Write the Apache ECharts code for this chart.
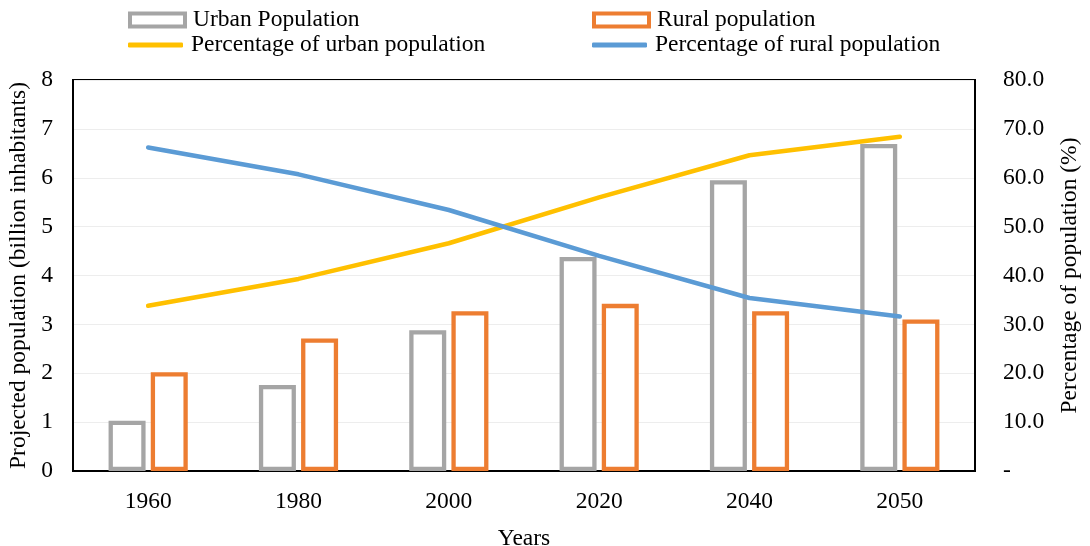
<!DOCTYPE html>
<html>
<head>
<meta charset="utf-8">
<script src="https://cdn.jsdelivr.net/npm/echarts@6/dist/echarts.min.js"></script>
<style>
  html, body { margin: 0; padding: 0; background: #fff; }
  #chart { width: 1090px; height: 546px; }
</style>
</head>
<body>
<div id="chart"></div>
<script>
// Urban vs rural world population, 1960-2050
const years = ['1960', '1980', '2000', '2020', '2040', '2050'];
const urbanPopulation = [1.03, 1.76, 2.88, 4.38, 5.95, 6.69];   // billion
const ruralPopulation = [2.02, 2.71, 3.27, 3.42, 3.27, 3.10];   // billion
const urbanPercent = [33.8, 39.3, 46.6, 56.0, 64.6, 68.4];      // %
const ruralPercent = [66.2, 60.7, 53.4, 44.0, 35.4, 31.6];      // %

const FONT = 'Liberation Serif';
const FS = 23.5;
const GRAY = '#A5A5A5', ORANGE = '#ED7D31', GOLD = '#FFC000', BLUE = '#5B9BD5';

const chart = echarts.init(document.getElementById('chart'), null, { renderer: 'canvas' });

const legendText = { fontFamily: FONT, fontSize: FS, color: '#000', padding: [0, 0, 0, 3] };

// one legend entry per block so each can sit in its own row/column
function legendEntry(name, left, top, isBar, color) {
  return {
    left: left, top: top, padding: 0,
    itemWidth: 55, itemHeight: isBar ? 13 : 5,
    textStyle: legendText,
    data: [isBar
      ? { name: name, icon: 'rect', itemStyle: { color: '#fff', borderColor: color, borderWidth: 4 } }
      : { name: name, icon: 'roundRect', itemStyle: { color: color, borderWidth: 0 } }]
  };
}

chart.setOption({
  animation: false,
  textStyle: { fontFamily: FONT, color: '#000' },
  legend: [
    legendEntry('Urban Population', 128, 8, true, GRAY),
    legendEntry('Percentage of urban population', 128, 33, false, GOLD),
    legendEntry('Rural population', 592, 8, true, ORANGE),
    legendEntry('Percentage of rural population', 592, 33, false, BLUE)
  ],
  grid: {
    left: 73, right: 115, top: 80, bottom: 75,
    outerBoundsMode: 'none', containLabel: false,
    show: true, borderColor: '#000', borderWidth: 2, backgroundColor: 'transparent'
  },
  xAxis: {
    type: 'category', data: years,
    name: 'Years', nameLocation: 'middle', nameGap: 56,
    nameTextStyle: { fontFamily: FONT, fontSize: FS, color: '#000' },
    axisLine: { lineStyle: { color: '#000', width: 2 } },
    axisTick: { show: false },
    axisLabel: { fontFamily: FONT, fontSize: FS, color: '#000', margin: 19 }
  },
  yAxis: [
    {
      type: 'value', min: 0, max: 8, interval: 1,
      name: 'Projected population (billion inhabitants)', nameLocation: 'middle', nameGap: 38,
      nameTextStyle: { fontFamily: FONT, fontSize: FS, color: '#000' },
      axisLine: { show: true, lineStyle: { color: '#000', width: 2 } },
      axisLabel: { fontFamily: FONT, fontSize: FS, color: '#000', margin: 20 },
      splitLine: { show: true, lineStyle: { color: '#EDEDED', width: 1 } }
    },
    {
      type: 'value', min: 0, max: 80, interval: 10,
      name: 'Percentage of population (%)', nameLocation: 'middle', nameGap: 83, nameRotate: 90,
      nameTextStyle: { fontFamily: FONT, fontSize: FS, color: '#000' },
      axisLine: { show: true, lineStyle: { color: '#000', width: 2 } },
      axisLabel: {
        fontFamily: FONT, fontSize: FS, color: '#000', margin: 28,
        formatter: v => v === 0 ? '-' : v.toFixed(1)
      },
      splitLine: { show: false }
    }
  ],
  series: [
    {
      name: 'Urban Population', type: 'bar', yAxisIndex: 0, data: urbanPopulation,
      barWidth: 37, barGap: '14%',
      itemStyle: { color: '#fff', borderColor: GRAY, borderWidth: 4.3 }
    },
    {
      name: 'Rural population', type: 'bar', yAxisIndex: 0, data: ruralPopulation,
      barWidth: 37, barGap: '14%',
      itemStyle: { color: '#fff', borderColor: ORANGE, borderWidth: 4.3 }
    },
    {
      name: 'Percentage of urban population', type: 'line', yAxisIndex: 1, data: urbanPercent,
      symbol: 'none', color: GOLD,
      lineStyle: { color: GOLD, width: 4.5, cap: 'round', join: 'round' }
    },
    {
      name: 'Percentage of rural population', type: 'line', yAxisIndex: 1, data: ruralPercent,
      symbol: 'none', color: BLUE,
      lineStyle: { color: BLUE, width: 4.5, cap: 'round', join: 'round' }
    }
  ]
});
</script>
</body>
</html>
